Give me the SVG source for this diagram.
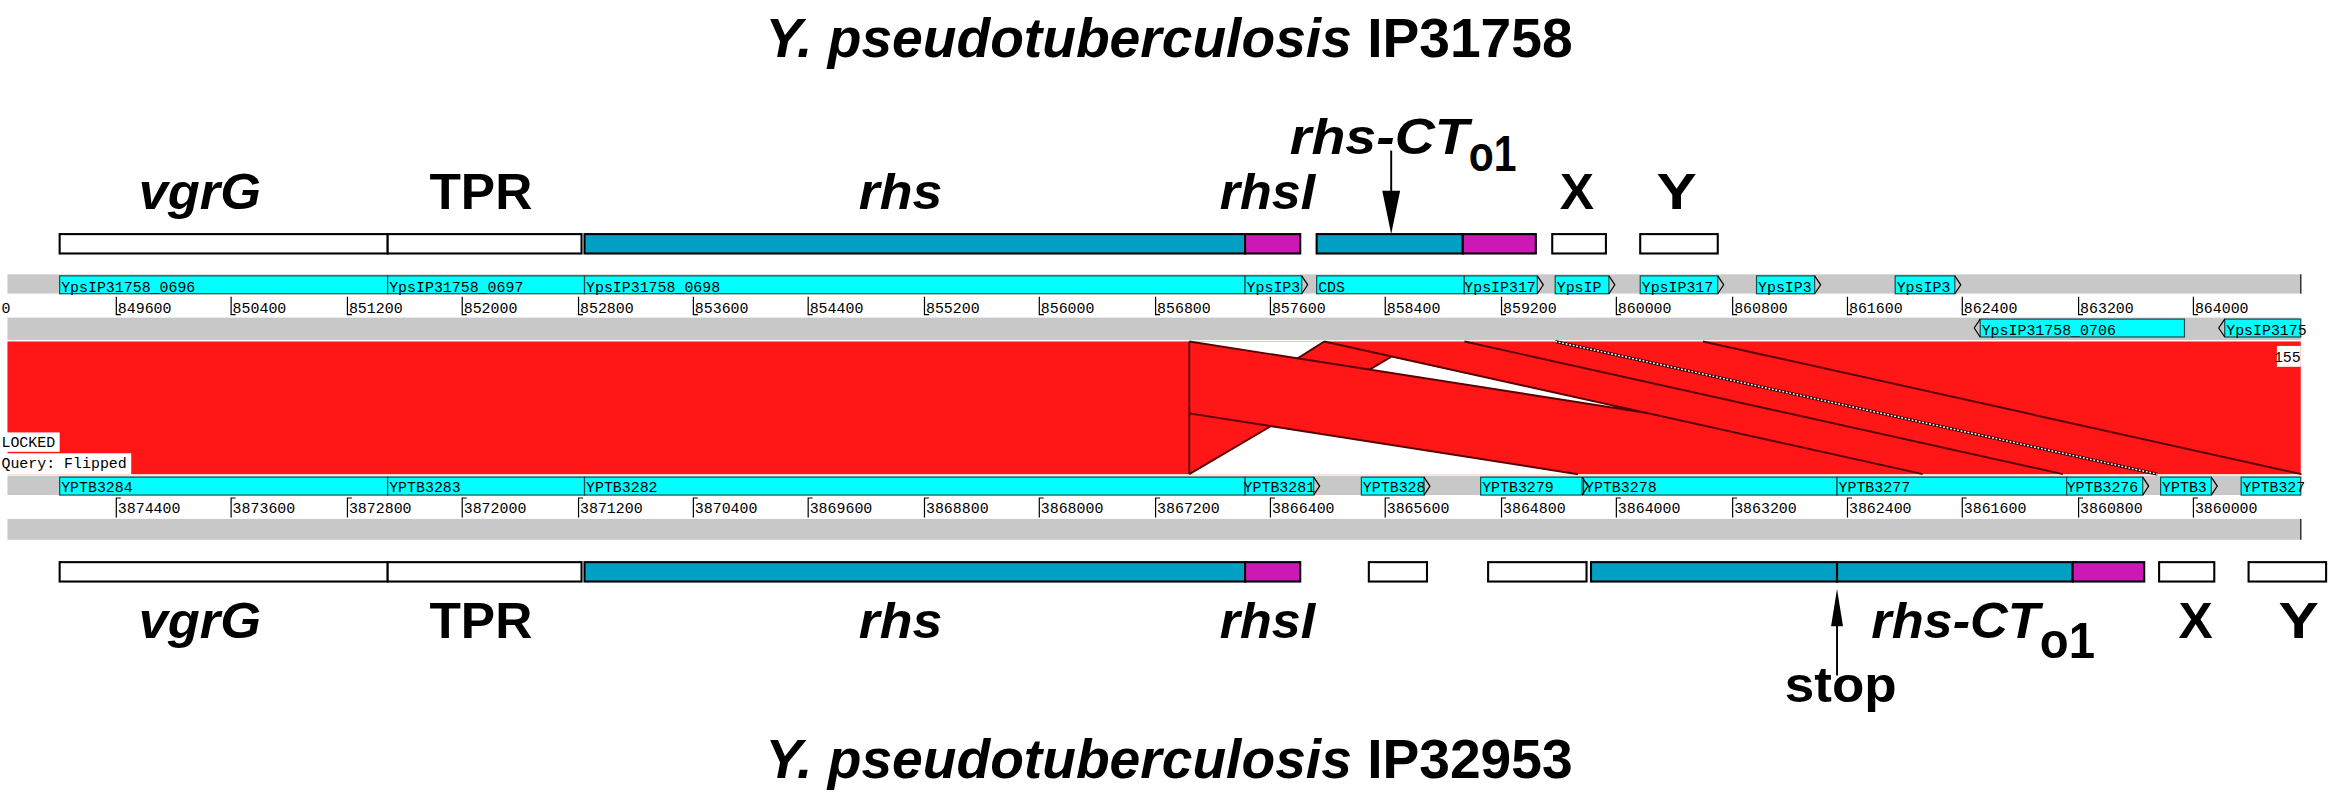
<svg xmlns="http://www.w3.org/2000/svg" width="2338" height="800" viewBox="0 0 2338 800">
<style>
.t{font-family:"Liberation Sans",Arial,sans-serif;font-weight:bold;fill:#000}
.i{font-style:italic}
.g{font-family:"Liberation Mono",monospace;font-size:10px;fill:#000}
.gene{fill:#00ffff;stroke:#1a4a4a;stroke-width:0.8}
.bar{fill:#c8c8c8}
.box{fill:#fff;stroke:#000;stroke-width:1.4}
.blue{fill:#00a0c4;stroke:#000;stroke-width:1.4}
.mag{fill:#cc18b4;stroke:#000;stroke-width:1.4}
.tk{stroke:#000;stroke-width:0.8;fill:none}
.dl{stroke:#5a0000;stroke-width:1.3;fill:none}
</style>
<rect width="2338" height="800" fill="#fff"/>
<g transform="scale(1.4911)">
<g id="titles">
<text class="t" x="784" y="38" font-size="37" text-anchor="middle"><tspan class="i">Y. pseudotuberculosis</tspan> IP31758</text>
<text class="t" x="784" y="522" font-size="37" text-anchor="middle"><tspan class="i">Y. pseudotuberculosis</tspan> IP32953</text>
</g>
<g id="top-labels" font-size="33">
<text class="t i" x="93" y="140" textLength="82" lengthAdjust="spacingAndGlyphs">vgrG</text>
<text class="t" x="288" y="140" textLength="69" lengthAdjust="spacingAndGlyphs">TPR</text>
<text class="t i" x="576" y="140" textLength="56" lengthAdjust="spacingAndGlyphs">rhs</text>
<text class="t i" x="818" y="140" textLength="64" lengthAdjust="spacingAndGlyphs">rhsI</text>
<text class="t i" x="865" y="103" textLength="120" lengthAdjust="spacingAndGlyphs">rhs-CT</text>
<text class="t" x="985" y="115" textLength="32" lengthAdjust="spacingAndGlyphs">o1</text>
<text class="t" x="1046" y="140" textLength="23" lengthAdjust="spacingAndGlyphs">X</text>
<text class="t" x="1111" y="140" textLength="27" lengthAdjust="spacingAndGlyphs">Y</text>
</g>
<g id="top-boxes">
<rect class="box" x="40" y="157" width="220" height="13"/>
<rect class="box" x="260" y="157" width="130" height="13"/>
<rect class="blue" x="392" y="157" width="443" height="13"/>
<rect class="mag" x="835" y="157" width="37" height="13"/>
<rect class="blue" x="883" y="157" width="98" height="13"/>
<rect class="mag" x="981" y="157" width="49" height="13"/>
<rect class="box" x="1041" y="157" width="36" height="13"/>
<rect class="box" x="1100" y="157" width="52" height="13"/>
</g>
<g id="bottom-boxes">
<rect class="box" x="40" y="377" width="220" height="13"/>
<rect class="box" x="260" y="377" width="130" height="13"/>
<rect class="blue" x="392" y="377" width="443" height="13"/>
<rect class="mag" x="835" y="377" width="37" height="13"/>
<rect class="box" x="918" y="377" width="39" height="13"/>
<rect class="box" x="998" y="377" width="66" height="13"/>
<rect class="blue" x="1067" y="377" width="165" height="13"/>
<rect class="blue" x="1232" y="377" width="158" height="13"/>
<rect class="mag" x="1390" y="377" width="48" height="13"/>
<rect class="box" x="1448" y="377" width="37" height="13"/>
<rect class="box" x="1508" y="377" width="52" height="13"/>
</g>
<g id="bottom-labels" font-size="33">
<text class="t i" x="93" y="428" textLength="82" lengthAdjust="spacingAndGlyphs">vgrG</text>
<text class="t" x="288" y="428" textLength="69" lengthAdjust="spacingAndGlyphs">TPR</text>
<text class="t i" x="576" y="428" textLength="56" lengthAdjust="spacingAndGlyphs">rhs</text>
<text class="t i" x="818" y="428" textLength="64" lengthAdjust="spacingAndGlyphs">rhsI</text>
<text class="t i" x="1255" y="428" textLength="113" lengthAdjust="spacingAndGlyphs">rhs-CT</text>
<text class="t" x="1368" y="441" textLength="37" lengthAdjust="spacingAndGlyphs">o1</text>
<text class="t" x="1461" y="428" textLength="23" lengthAdjust="spacingAndGlyphs">X</text>
<text class="t" x="1528" y="428" textLength="27" lengthAdjust="spacingAndGlyphs">Y</text>
<text class="t" x="1197" y="471" textLength="75" lengthAdjust="spacingAndGlyphs">stop</text>
</g>
<g id="connectors">
<line x1="933" y1="101" x2="933" y2="140" stroke="#000" stroke-width="1.3"/>
<polygon points="927,128 939,128 933,157" fill="#000"/>
<line x1="1232" y1="453" x2="1232" y2="410" stroke="#000" stroke-width="1.3"/>
<polygon points="1228,420 1236,420 1232,395" fill="#000"/>
</g>
<g id="top-track">
<rect class="bar" x="5" y="184" width="1538" height="13"/>
<line x1="1543" y1="184" x2="1543" y2="197" stroke="#333"/>
<rect x="5" y="197" width="1538" height="16" fill="#fff"/>
<rect class="bar" x="5" y="213" width="1538" height="15"/>
<rect class="gene" x="40" y="185" width="220" height="12"/><text class="g" x="41" y="196">YpsIP31758_0696</text>
<rect class="gene" x="260" y="185" width="132" height="12"/><text class="g" x="261" y="196">YpsIP31758_0697</text>
<rect class="gene" x="392" y="185" width="443" height="12"/><text class="g" x="393" y="196">YpsIP31758_0698</text>
<rect class="gene" x="835" y="185" width="38" height="12"/><text class="g" x="836" y="196">YpsIP3</text>
<rect class="gene" x="883" y="185" width="99" height="12"/><text class="g" x="884" y="196">CDS</text>
<rect class="gene" x="982" y="185" width="49" height="12"/><text class="g" x="982" y="196">YpsIP317</text>
<rect class="gene" x="1043" y="185" width="36" height="12"/><text class="g" x="1044" y="196">YpsIP</text>
<rect class="gene" x="1100" y="185" width="52" height="12"/><text class="g" x="1101" y="196">YpsIP317</text>
<rect class="gene" x="1178" y="185" width="39" height="12"/><text class="g" x="1179" y="196">YpsIP3</text>
<rect class="gene" x="1271" y="185" width="40" height="12"/><text class="g" x="1272" y="196">YpsIP3</text>
<path class="tk" d="M873,185 l4,6 l-4,6 M1031,185 l4,6 l-4,6 M1079,185 l4,6 l-4,6 M1152,185 l4,6 l-4,6 M1217,185 l4,6 l-4,6 M1311,185 l4,6 l-4,6"/>
<rect class="gene" x="1328" y="214" width="137" height="12"/><text class="g" x="1329" y="225">YpsIP31758_0706</text>
<rect class="gene" x="1492" y="214" width="51" height="12"/><text class="g" x="1493" y="225">YpsIP3175</text>
<path class="tk" d="M1328,214 l-4,6 l4,6 M1492,214 l-4,6 l4,6"/>
<text class="g" x="1" y="210">0</text>
<g class="g">
<text x="79" y="210">849600</text><text x="156" y="210">850400</text><text x="234" y="210">851200</text><text x="311" y="210">852000</text><text x="389" y="210">852800</text><text x="466" y="210">853600</text><text x="543" y="210">854400</text><text x="621" y="210">855200</text><text x="698" y="210">856000</text><text x="776" y="210">856800</text><text x="853" y="210">857600</text><text x="930" y="210">858400</text><text x="1008" y="210">859200</text><text x="1085" y="210">860000</text><text x="1163" y="210">860800</text><text x="1240" y="210">861600</text><text x="1317" y="210">862400</text><text x="1395" y="210">863200</text><text x="1472" y="210">864000</text>
</g>
<path class="tk" d="M78,199v12h3 M155,199v12h3 M233,199v12h3 M310,199v12h3 M388,199v12h3 M465,199v12h3 M542,199v12h3 M620,199v12h3 M697,199v12h3 M775,199v12h3 M852,199v12h3 M929,199v12h3 M1007,199v12h3 M1084,199v12h3 M1162,199v12h3 M1239,199v12h3 M1316,199v12h3 M1394,199v12h3 M1471,199v12h3"/>
</g>
<g id="alignment">
<rect x="5" y="229" width="1538" height="89" fill="#ff1616"/>
<polygon points="797.6,229 888.1,229 870.3,240.3" fill="#fff"/>
<polygon points="918.5,247.9 932.8,239.4 1103.5,276.8" fill="#fff"/>
<polygon points="797.6,318 852.5,285.7 1058.3,318" fill="#fff"/>
<path class="dl" d="M797.6,229V318 M797.6,229L1103.5,276.8 M888.1,229L1289.5,318 M982.1,229L1383.5,318 M1142.1,229L1543.5,318 M797.6,277.2L1058.3,318 M797.6,318L852.5,285.7 M888.1,229L870.3,240.3 M918.5,247.9L932.8,239.4"/>
<path d="M1043,229L1447,318" stroke="#300" stroke-width="2"/>
<path d="M1043,229L1447,318" stroke="#fff" stroke-width="1" stroke-dasharray="1.2,1.2"/>
<rect x="0" y="290" width="40" height="13" fill="#fff"/><text class="g" x="1" y="300">LOCKED</text>
<rect x="0" y="304" width="88" height="14" fill="#fff"/><text class="g" x="1" y="314">Query: Flipped</text>
<rect x="1527" y="232" width="16" height="14" fill="#fff"/><text class="g" x="1525" y="243" font-size="9">155</text>
</g>
<g id="bottom-track">
<rect class="bar" x="5" y="319" width="1538" height="13"/>
<rect x="5" y="332" width="1538" height="16" fill="#fff"/>
<rect class="bar" x="5" y="348" width="1538" height="14"/>
<line x1="1543" y1="348" x2="1543" y2="362" stroke="#333"/>
<rect class="gene" x="40" y="320" width="220" height="12"/><text class="g" x="41" y="330">YPTB3284</text>
<rect class="gene" x="260" y="320" width="132" height="12"/><text class="g" x="261" y="330">YPTB3283</text>
<rect class="gene" x="392" y="320" width="443" height="12"/><text class="g" x="393" y="330">YPTB3282</text>
<rect class="gene" x="835" y="320" width="46" height="12"/><text class="g" x="834" y="330">YPTB3281</text>
<rect class="gene" x="913" y="320" width="42" height="12"/><text class="g" x="914" y="330">YPTB328</text>
<rect class="gene" x="993" y="320" width="68" height="12"/><text class="g" x="994" y="330">YPTB3279</text>
<rect class="gene" x="1062" y="320" width="170" height="12"/><text class="g" x="1063" y="330">YPTB3278</text>
<rect class="gene" x="1232" y="320" width="154" height="12"/><text class="g" x="1233" y="330">YPTB3277</text>
<rect class="gene" x="1386" y="320" width="51" height="12"/><text class="g" x="1386" y="330">YPTB3276</text>
<rect class="gene" x="1449" y="320" width="34" height="12"/><text class="g" x="1450" y="330">YPTB3</text>
<rect class="gene" x="1503" y="320" width="40" height="12"/><text class="g" x="1504" y="330">YPTB327</text>
<path class="tk" d="M881,320 l4,6 l-4,6 M955,320 l4,6 l-4,6 M1061,320 l4,6 l-4,6 M1437,320 l4,6 l-4,6 M1483,320 l4,6 l-4,6"/>
<g class="g">
<text x="79" y="344">3874400</text><text x="156" y="344">3873600</text><text x="234" y="344">3872800</text><text x="311" y="344">3872000</text><text x="389" y="344">3871200</text><text x="466" y="344">3870400</text><text x="543" y="344">3869600</text><text x="621" y="344">3868800</text><text x="698" y="344">3868000</text><text x="776" y="344">3867200</text><text x="853" y="344">3866400</text><text x="930" y="344">3865600</text><text x="1008" y="344">3864800</text><text x="1085" y="344">3864000</text><text x="1163" y="344">3863200</text><text x="1240" y="344">3862400</text><text x="1317" y="344">3861600</text><text x="1395" y="344">3860800</text><text x="1472" y="344">3860000</text>
</g>
<path class="tk" d="M81,334h-3v13 M158,334h-3v13 M236,334h-3v13 M313,334h-3v13 M391,334h-3v13 M468,334h-3v13 M545,334h-3v13 M623,334h-3v13 M700,334h-3v13 M778,334h-3v13 M855,334h-3v13 M932,334h-3v13 M1010,334h-3v13 M1087,334h-3v13 M1165,334h-3v13 M1242,334h-3v13 M1319,334h-3v13 M1397,334h-3v13 M1474,334h-3v13"/>
</g>
</g>
</svg>
